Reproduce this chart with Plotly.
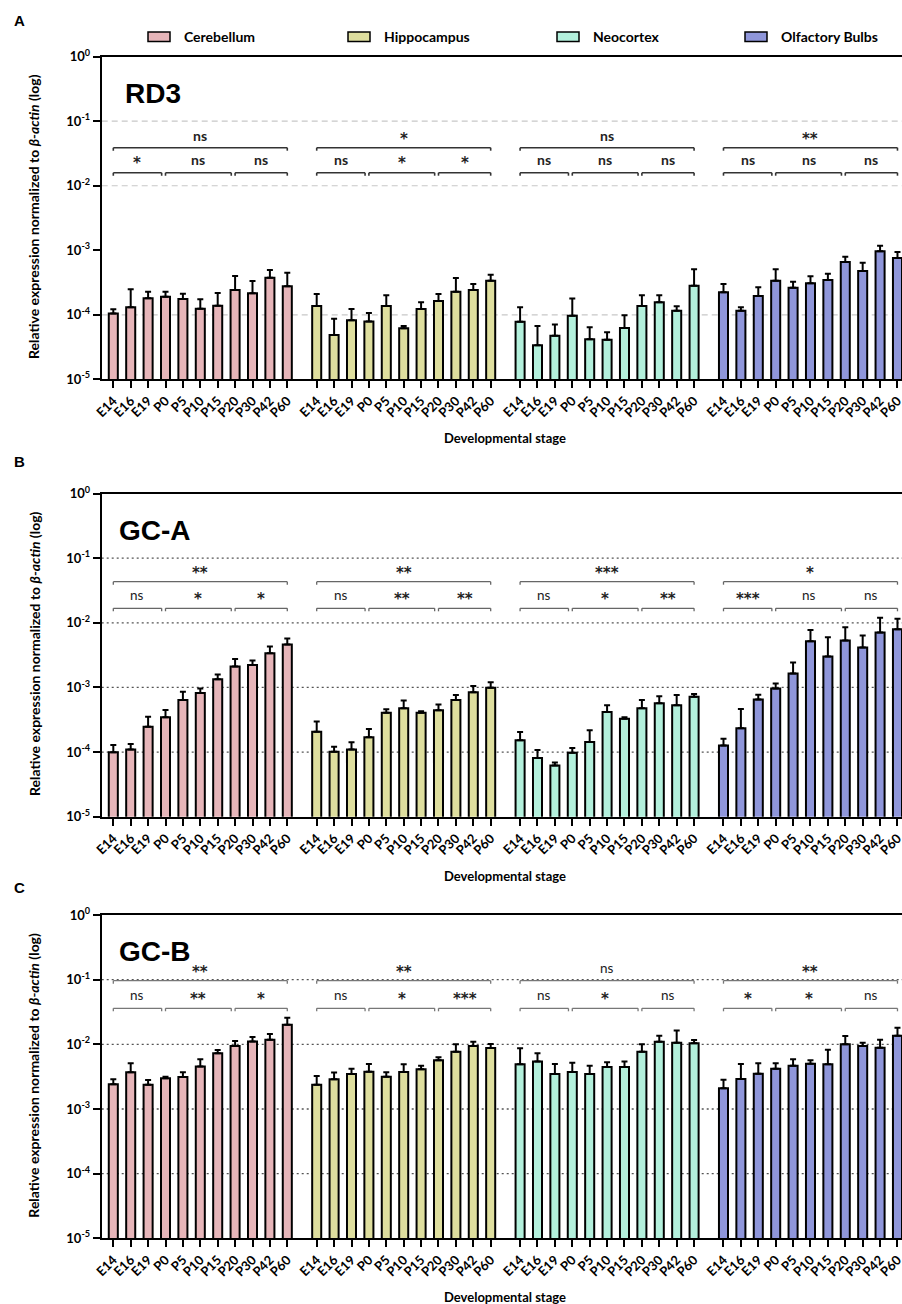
import plotly.graph_objects as go

W, H = 902, 1304

STAGES = ["E14", "E16", "E19", "P0", "P5", "P10", "P15", "P20", "P30", "P42", "P60"]
REGIONS = ["Cerebellum", "Hippocampus", "Neocortex", "Olfactory Bulbs"]
COLORS = ["#E6B5B9", "#DEDE9E", "#B3F0DC", "#8F96DA"]
GENES = ["RD3", "GC-A", "GC-B"]

# ---- RD3 (mean, upper end of error bar) ----
RD3_CB = [1.05e-4, 1.31e-4, 1.80e-4, 1.91e-4, 1.76e-4, 1.24e-4, 1.38e-4, 2.42e-4, 2.15e-4, 3.76e-4, 2.77e-4]
RD3_CB_UP = [1.22e-4, 2.48e-4, 2.28e-4, 2.28e-4, 2.12e-4, 1.74e-4, 2.18e-4, 4.00e-4, 3.34e-4, 4.94e-4, 4.50e-4]
RD3_HC = [1.37e-4, 4.86e-5, 8.2e-5, 7.9e-5, 1.37e-4, 6.2e-5, 1.23e-4, 1.64e-4, 2.28e-4, 2.43e-4, 3.38e-4]
RD3_HC_UP = [2.10e-4, 8.7e-5, 1.23e-4, 1.07e-4, 2.00e-4, 6.7e-5, 1.56e-4, 2.10e-4, 3.72e-4, 3.00e-4, 4.19e-4]
RD3_NC = [7.8e-5, 3.37e-5, 4.75e-5, 9.7e-5, 4.17e-5, 4.12e-5, 6.25e-5, 1.37e-4, 1.56e-4, 1.15e-4, 2.83e-4]
RD3_NC_UP = [1.31e-4, 6.7e-5, 7.1e-5, 1.78e-4, 6.4e-5, 5.36e-5, 9.8e-5, 2.00e-4, 2.00e-4, 1.36e-4, 5.07e-4]
RD3_OB = [2.23e-4, 1.15e-4, 1.96e-4, 3.38e-4, 2.63e-4, 3.08e-4, 3.46e-4, 6.58e-4, 4.77e-4, 9.64e-4, 7.6e-4]
RD3_OB_UP = [3.00e-4, 1.31e-4, 2.67e-4, 5.07e-4, 3.26e-4, 3.95e-4, 4.34e-4, 7.96e-4, 6.42e-4, 1.17e-3, 9.4e-4]

# ---- GC-A ----
GCA_CB = [9.9e-5, 1.10e-4, 2.47e-4, 3.46e-4, 6.4e-4, 8.2e-4, 1.34e-3, 2.10e-3, 2.23e-3, 3.38e-3, 4.6e-3]
GCA_CB_UP = [1.29e-4, 1.33e-4, 3.53e-4, 4.49e-4, 8.6e-4, 9.6e-4, 1.58e-3, 2.76e-3, 2.60e-3, 4.28e-3, 5.7e-3]
GCA_HC = [2.07e-4, 1.01e-4, 1.10e-4, 1.69e-4, 4.07e-4, 4.76e-4, 4.07e-4, 4.43e-4, 6.4e-4, 8.4e-4, 9.9e-4]
GCA_HC_UP = [2.96e-4, 1.21e-4, 1.42e-4, 2.28e-4, 4.59e-4, 6.25e-4, 4.28e-4, 5.42e-4, 7.66e-4, 1.05e-3, 1.20e-3]
GCA_NC = [1.52e-4, 8.1e-5, 6.2e-5, 9.8e-5, 1.43e-4, 4.18e-4, 3.29e-4, 4.76e-4, 5.7e-4, 5.3e-4, 7.2e-4]
GCA_NC_UP = [2.05e-4, 1.08e-4, 6.9e-5, 1.16e-4, 2.17e-4, 5.3e-4, 3.46e-4, 6.4e-4, 7.3e-4, 7.66e-4, 7.9e-4]
GCA_OB = [1.26e-4, 2.33e-4, 6.5e-4, 9.6e-4, 1.64e-3, 5.2e-3, 3.0e-3, 5.3e-3, 4.13e-3, 7.1e-3, 7.96e-3]
GCA_OB_UP = [1.60e-4, 4.65e-4, 7.7e-4, 1.15e-3, 2.42e-3, 7.7e-3, 5.98e-3, 8.55e-3, 6.34e-3, 1.20e-2, 1.15e-2]

# ---- GC-B ----
GCB_CB = [2.41e-3, 3.69e-3, 2.38e-3, 2.98e-3, 3.13e-3, 4.52e-3, 7.26e-3, 9.42e-3, 1.11e-2, 1.18e-2, 2.01e-2]
GCB_CB_UP = [2.88e-3, 5.09e-3, 2.81e-3, 3.16e-3, 3.69e-3, 5.87e-3, 8.17e-3, 1.13e-2, 1.30e-2, 1.44e-2, 2.58e-2]
GCB_HC = [2.38e-3, 2.88e-3, 3.48e-3, 3.78e-3, 3.16e-3, 3.73e-3, 4.11e-3, 5.66e-3, 7.7e-3, 9.42e-3, 8.77e-3]
GCB_HC_UP = [3.24e-3, 3.65e-3, 4.20e-3, 4.96e-3, 3.69e-3, 4.91e-3, 4.68e-3, 6.3e-3, 1.00e-2, 1.10e-2, 1.01e-2]
GCB_NC = [4.91e-3, 5.4e-3, 3.48e-3, 3.73e-3, 3.48e-3, 4.47e-3, 4.47e-3, 7.7e-3, 1.10e-2, 1.06e-2, 1.04e-2]
GCB_NC_UP = [8.7e-3, 7.26e-3, 4.96e-3, 5.2e-3, 4.68e-3, 5.27e-3, 5.4e-3, 1.00e-2, 1.36e-2, 1.63e-2, 1.17e-2]
GCB_OB = [2.09e-3, 2.91e-3, 3.52e-3, 4.2e-3, 4.68e-3, 5.02e-3, 4.91e-3, 1.00e-2, 9.42e-3, 8.87e-3, 1.36e-2]
GCB_OB_UP = [2.84e-3, 4.96e-3, 5.09e-3, 5.09e-3, 5.87e-3, 5.66e-3, 8.26e-3, 1.35e-2, 1.06e-2, 1.18e-2, 1.81e-2]

MEANS = {
    "RD3": [RD3_CB, RD3_HC, RD3_NC, RD3_OB],
    "GC-A": [GCA_CB, GCA_HC, GCA_NC, GCA_OB],
    "GC-B": [GCB_CB, GCB_HC, GCB_NC, GCB_OB],
}
UPPERS = {
    "RD3": [RD3_CB_UP, RD3_HC_UP, RD3_NC_UP, RD3_OB_UP],
    "GC-A": [GCA_CB_UP, GCA_HC_UP, GCA_NC_UP, GCA_OB_UP],
    "GC-B": [GCB_CB_UP, GCB_HC_UP, GCB_NC_UP, GCB_OB_UP],
}

# significance: (overall E14 vs P60, [E14-P0, P0-P20, P20-P60])
RD3_SIG = [("ns", ["*", "ns", "ns"]), ("*", ["ns", "*", "*"]),
           ("ns", ["ns", "ns", "ns"]), ("**", ["ns", "ns", "ns"])]
GCA_SIG = [("**", ["ns", "*", "*"]), ("**", ["ns", "**", "**"]),
           ("***", ["ns", "*", "**"]), ("*", ["***", "ns", "ns"])]
GCB_SIG = [("**", ["ns", "**", "*"]), ("**", ["ns", "*", "***"]),
           ("ns", ["ns", "*", "ns"]), ("**", ["*", "*", "ns"])]
SIGS = {"RD3": RD3_SIG, "GC-A": GCA_SIG, "GC-B": GCB_SIG}
COMPARISONS = [(0, 3), (3, 7), (7, 10)]

Y_TICKS = [1e-5, 1e-4, 1e-3, 1e-2, 1e-1, 1]
Y_TICKTEXT = ["10<sup>-5</sup>", "10<sup>-4</sup>", "10<sup>-3</sup>",
              "10<sup>-2</sup>", "10<sup>-1</sup>", "10<sup>0</sup>"]

# ---------------- layout geometry (pixels) ----------------
PANEL_TOP = [56.7, 493.5, 915.0]
PANEL_BOT = [379.3, 816.7, 1238.3]
AXIS_LEFT = 101.7
GROUP_PERIOD = 11.69
X_RANGE = [-0.667, 45.33]

def px(x):
    return x / W

def py(y):
    return 1 - y / H

FONT = "Lato"
TITLE_FONT = "Liberation Sans"
STAR_FONT = "DejaVu Sans"

fig = go.Figure()
shapes = []
annotations = []

for p, gene in enumerate(GENES):
    xa = "x" if p == 0 else f"x{p+1}"
    ya = "y" if p == 0 else f"y{p+1}"
    for r, region in enumerate(REGIONS):
        xs = [r * GROUP_PERIOD + i for i in range(len(STAGES))]
        m = MEANS[gene][r]
        u = UPPERS[gene][r]
        fig.add_trace(go.Bar(
            x=xs, y=m, width=0.52, name=region, showlegend=False,
            marker=dict(color=COLORS[r], line=dict(color="black", width=2)),
            error_y=dict(type="data", symmetric=False,
                         array=[a - b for a, b in zip(u, m)],
                         arrayminus=[0] * len(m),
                         color="black", thickness=2, width=3),
            xaxis=xa, yaxis=ya,
            customdata=STAGES,
            hovertemplate=region + " %{customdata}: %{y:.2e}<extra></extra>",
        ))

    top, bot = PANEL_TOP[p], PANEL_BOT[p]
    dec = (bot - top) / 5.0

    # horizontal reference lines
    if p == 0:
        grid_decades = [1, 2, 4]
        gstyle = dict(color="#C8C8C8", width=1.2, dash="6px,4px")
    else:
        grid_decades = [1, 2, 3, 4]
        gstyle = dict(color="#555555", width=1.3, dash="2px,3px")
    for d in grid_decades:
        yy = py(top + d * dec)
        shapes.append(dict(type="line", xref="paper", yref="paper",
                           x0=px(AXIS_LEFT), x1=1, y0=yy, y1=yy,
                           line=gstyle, layer="below"))

    # significance brackets
    if p == 0:
        offs = (116.0, 102.6, 91.0, 78.3)
        bcol, bw, lcol = "#333333", 1.6, "#222222"
    elif p == 1:
        offs = (114.8, 101.5, 88.2, 75.8)
        bcol, bw, lcol = "#666666", 1.3, "#222222"
    else:
        offs = (93.3, 80.0, 65.7, 53.3)
        bcol, bw, lcol = "#777777", 1.3, "#222222"
    small_line, small_lab, big_line, big_lab = offs
    tick = 3.0
    for r in range(4):
        base = r * GROUP_PERIOD
        big_txt, small_txt = SIGS[gene][r]
        segs = [((base + a), (base + b - (0.22 if b != 10 else 0.0)), small_line, small_lab, t)
                for (a, b), t in zip(COMPARISONS, small_txt)]
        segs.append((base + 0, base + 10, big_line, big_lab, big_txt))
        for x0, x1, yl, ylab, txt in segs:
            y0 = py(top + yl)
            y1 = py(top + yl + tick)
            shapes.append(dict(type="line", xref=xa, yref="paper", x0=x0, x1=x1, y0=y0, y1=y0,
                               line=dict(color=bcol, width=bw)))
            shapes.append(dict(type="line", xref=xa, yref="paper", x0=x0, x1=x0, y0=y0, y1=y1,
                               line=dict(color=bcol, width=bw)))
            shapes.append(dict(type="line", xref=xa, yref="paper", x0=x1, x1=x1, y0=y0, y1=y1,
                               line=dict(color=bcol, width=bw)))
            is_star = txt.startswith("*")
            if is_star:
                font = dict(family=STAR_FONT, size=15, color=lcol, weight=700)
            else:
                font = dict(family=FONT, size=14 if p == 0 else 13.5, color=lcol,
                            weight=700 if p == 0 else 400)
            annotations.append(dict(
                x=(x0 + x1) / 2, y=py(top + ylab), xref=xa, yref="paper",
                text=txt, showarrow=False, xanchor="center", yanchor="middle",
                yshift=-4 if is_star else 0, font=font))

    # gene title
    annotations.append(dict(x=px(116.7 if p else 123), y=py(top + 36.5), xref="paper", yref="paper",
                            text=gene, showarrow=False, xanchor="left", yanchor="middle",
                            font=dict(family=TITLE_FONT, size=28, color="black", weight=700)))
    # y title
    annotations.append(dict(x=px(34), y=py((top + bot) / 2 - 1), xref="paper", yref="paper",
                            text="Relative expression normalized to <i>β-actin</i> (log)",
                            textangle=-90, showarrow=False, xanchor="center", yanchor="middle",
                            font=dict(family=FONT, size=14, color="black", weight=700)))
    # x title
    annotations.append(dict(x=px(505), y=py(bot + 59), xref="paper", yref="paper",
                            text="Developmental stage", showarrow=False,
                            xanchor="center", yanchor="middle",
                            font=dict(family=FONT, size=13, color="black", weight=700)))
    # panel letter
    annotations.append(dict(x=px(12), y=py([21, 461, 887][p]), xref="paper", yref="paper",
                            text="ABC"[p], showarrow=False, xanchor="left", yanchor="middle",
                            font=dict(family=TITLE_FONT, size=15, color="black", weight=700)))

    tickvals = [r * GROUP_PERIOD + i for r in range(4) for i in range(len(STAGES))]
    ticktext = STAGES * 4
    xkey = "xaxis" if p == 0 else f"xaxis{p+1}"
    ykey = "yaxis" if p == 0 else f"yaxis{p+1}"
    fig.layout[xkey] = dict(
        domain=[px(AXIS_LEFT), 1], anchor=ya, range=X_RANGE,
        tickvals=tickvals, ticktext=ticktext, tickangle=-45,
        ticks="outside", ticklen=7, tickwidth=2, tickcolor="black",
        showline=True, linewidth=2, linecolor="black", mirror=True,
        showgrid=False, zeroline=False, automargin=False,
        ticklabeloverflow="allow",
        tickfont=dict(family=FONT, size=13, color="black", weight=700),
    )
    fig.layout[ykey] = dict(
        domain=[py(bot), py(top)], anchor=xa, type="log", range=[-5, 0],
        tickvals=Y_TICKS, ticktext=Y_TICKTEXT,
        ticks="outside", ticklen=7, tickwidth=2, tickcolor="black",
        showline=True, linewidth=2, linecolor="black",
        showgrid=False, zeroline=False, automargin=False,
        tickfont=dict(family=FONT, size=13, color="black", weight=700),
    )

# legend (drawn manually)
LEG_SWATCH_X = [148, 348, 557, 745]
for r, region in enumerate(REGIONS):
    x0 = LEG_SWATCH_X[r]
    shapes.append(dict(type="rect", xref="paper", yref="paper",
                       x0=px(x0), x1=px(x0 + 22), y0=py(41.5), y1=py(32),
                       fillcolor=COLORS[r], line=dict(color="black", width=1.5)))
    annotations.append(dict(x=px(x0 + 34), y=py(36.7), xref="paper", yref="paper",
                            text=region, showarrow=False, xanchor="left", yanchor="middle",
                            font=dict(family=FONT, size=14, color="black", weight=700)))

fig.update_layout(
    width=W, height=H,
    margin=dict(l=0, r=0, t=0, b=0),
    paper_bgcolor="white", plot_bgcolor="white",
    barmode="overlay",
    showlegend=False,
    shapes=shapes, annotations=annotations,
)

fig.write_html("out.html")
